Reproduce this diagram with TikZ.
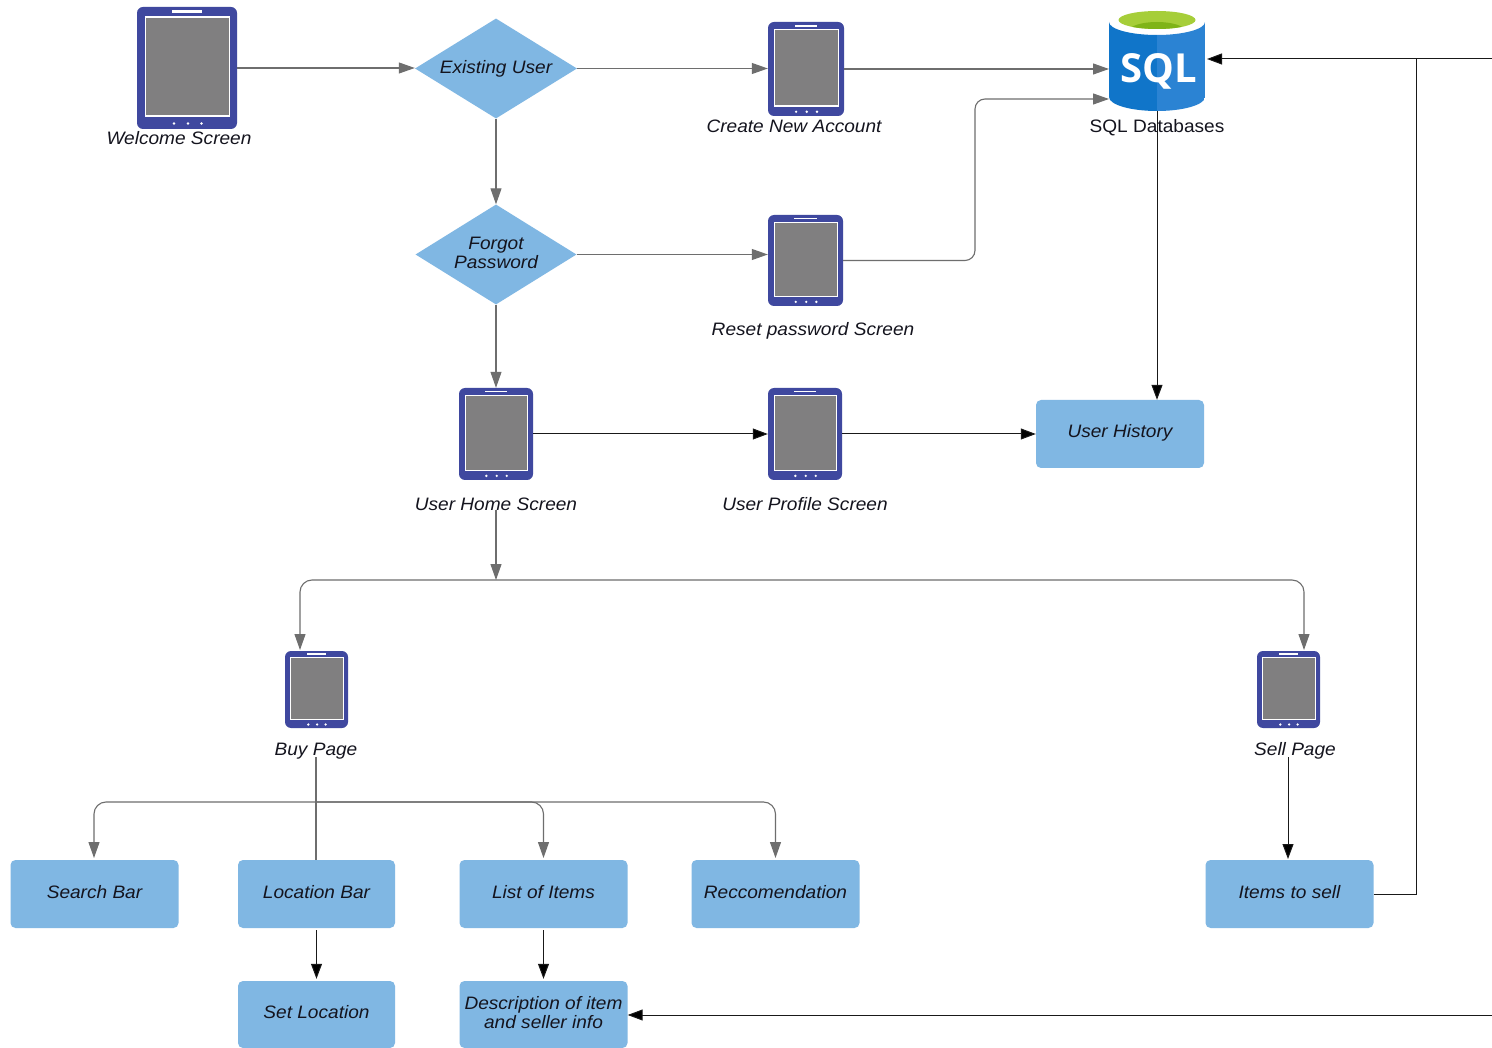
\documentclass[tikz,border=0pt]{standalone}
\usepackage{fontspec}
\setmainfont[FakeStretch=1.06]{Liberation Sans}
\newfontfamily\sqlfont{Open Sans}
\usetikzlibrary{arrows.meta,shapes.geometric,calc}
\definecolor{boxblue}{HTML}{80B7E3}
\definecolor{tabblue}{HTML}{3F489F}
\definecolor{screengrey}{HTML}{807F80}
\definecolor{linegrey}{HTML}{6E6E6E}
\definecolor{txt}{HTML}{14141E}
\definecolor{sqlleft}{HTML}{1075C9}
\definecolor{sqlright}{HTML}{2B83D3}
\definecolor{sqlgreen}{HTML}{A6CE39}
\definecolor{sqldkgreen}{HTML}{7FB418}
\tikzset{
  greyline/.style={draw=linegrey,line width=1.1pt,-{Triangle[length=16pt,width=11pt,fill=linegrey]}},
  greyplain/.style={draw=linegrey,line width=1.1pt},
  blackline/.style={draw=black!90,line width=1pt,-{Triangle[length=15pt,width=11pt,fill=black]}},
  blackplain/.style={draw=black!90,line width=1pt},
  lbl/.style={font=\fontsize{18}{20}\selectfont\itshape,text=txt,inner sep=0pt,anchor=base},
  procbox/.style={fill=boxblue,rounded corners=5pt,inner sep=0pt,font=\fontsize{18}{19}\selectfont\itshape,text=txt,align=center},
  oneline/.style={text height=14pt,text depth=6pt},
  decision/.style={diamond,fill=boxblue,aspect=1.62,inner sep=0pt,font=\fontsize{18}{19}\selectfont\itshape,text=txt,align=center},
}
% name, left, top, right, bottom
\newcommand{\tablet}[5]{%
  \pgfmathsetmacro{\tw}{#4-#2}\pgfmathsetmacro{\th}{#5-#3}%
  \node[fill=tabblue,rounded corners=6pt,inner sep=0pt,minimum width=\tw pt,minimum height=\th pt] (#1) at ({(#2+#4)/2},{(#3+#5)/2}) {};
  \begin{scope}[shift={(#2,#3)},x=\tw pt,y=-\th pt]
    \fill[white] (0.075,0.075) rectangle (0.93,0.9);
    \fill[screengrey] (0.09,0.088) rectangle (0.915,0.887);
    \fill[white] (0.35,0.028) rectangle (0.65,0.048);
    \foreach \dx in {0.37,0.51,0.645}{\fill[white] (\dx,0.955) circle[radius=1.3pt];}
  \end{scope}
}
\begin{document}
\begin{tikzpicture}[x=1pt,y=-1pt]
\useasboundingbox (0,0) rectangle (1492,1048);
\fill[white] (0,0) rectangle (1492,1048);
% tablets
\tablet{welcome}{137}{7}{237}{129}
\tablet{create}{768}{22}{844}{116}
\tablet{reset}{768}{215}{843}{306}
\tablet{home}{459}{388}{533}{480}
\tablet{profile}{768}{388}{842}{480}
\tablet{buy}{285}{651}{348}{728}
\tablet{sell}{1257}{651}{1320}{728}
% decisions
\node[decision,minimum width=162pt,minimum height=100pt] (existing) at (496,68.5) {Existing User};
\node[decision,minimum width=161pt,minimum height=100pt] (forgot) at (496,254.5) {Forgot\\Password\\[-15pt]\mbox{}};
% boxes
\node[procbox,oneline,minimum width=168pt,minimum height=68pt] (history) at (1120,434) {User History};
\node[procbox,oneline,minimum width=168pt,minimum height=68pt] (search) at (94.5,894) {Search Bar};
\node[procbox,oneline,minimum width=157pt,minimum height=68pt] (location) at (316.5,894) {Location Bar};
\node[procbox,oneline,minimum width=168pt,minimum height=68pt] (items) at (543.5,894) {List of Items};
\node[procbox,oneline,minimum width=168pt,minimum height=68pt] (recc) at (775.5,894) {Reccomendation};
\node[procbox,oneline,minimum width=168pt,minimum height=68pt] (tosell) at (1289.5,894) {Items to sell};
\node[procbox,oneline,minimum width=157pt,minimum height=67pt] (setloc) at (316.5,1014.5) {Set Location};
\node[procbox,minimum width=168pt,minimum height=67pt] (desc) at (543.5,1014.5) {Description of item\\and seller info\\[-15pt]\mbox{}};
% SQL cylinder
\fill[white] (1157,22) ellipse[x radius=48,y radius=13];
\begin{scope}
  \clip (1109,22) -- (1109,97) arc[start angle=180,end angle=0,x radius=48,y radius=14] -- (1205,22) arc[start angle=0,end angle=180,x radius=48,y radius=13] -- cycle;
  \fill[sqlleft] (1109,0) rectangle (1157,120);
  \fill[sqlright] (1157,0) rectangle (1205,120);
\end{scope}
\fill[sqlgreen] (1157,20) ellipse[x radius=38.5,y radius=9];
\begin{scope}
  \clip (1157,20) ellipse[x radius=38.5,y radius=9];
  \fill[sqldkgreen] (1157,31) ellipse[x radius=28,y radius=9];
\end{scope}
\node[inner sep=0pt,minimum width=96pt,minimum height=101pt] (sql) at (1157,60.5) {};
\node[inner sep=0pt,text=white,font=\fontsize{40}{42}\sqlfont\bfseries] (sqltext) at (1159,71) {SQL};
% labels
\node[lbl] (lwelcome) at (179,144.5) {Welcome Screen};
\node[lbl] (lcreate) at (794,133) {Create New Account};
\node[lbl] (lreset) at (813,336) {Reset password Screen};
\node[lbl] (lhome) at (496,511) {User Home Screen};
\node[lbl] (lprofile) at (805,511) {User Profile Screen};
\node[lbl] (lbuy) at (316,755) {Buy Page};
\node[lbl] (lsell) at (1295,755) {Sell Page};
% helper coordinates
\coordinate (sqlA) at (1109,69);
\coordinate (sqlB) at (1109,99);
\coordinate (sqlC) at (1207,59);
\coordinate (sqlD) at (1157,111);
\coordinate (homeout) at (496,510);
\coordinate (split) at (496,580);
\coordinate (rightTop) at (1492,59);
\coordinate (rightBot) at (1492,1015);
\coordinate (buyfork) at (316,802);
\coordinate (buyline) at (316,757);
\coordinate (trunk) at (1416,59);
\coordinate (sellstart) at (1288,757);
\coordinate (sellend) at (1288,859);
% connectors
\draw[greyline] (welcome.east) -- (welcome.east -| existing.west);
\draw[greyline] (existing.east) -- (existing.east -| create.west);
\draw[greyline] (create.east) -- (create.east -| sqlA);
\draw[greyline] (existing.south) -- (forgot.north);
\draw[greyline] (forgot.east) -- (forgot.east -| reset.west);
\draw[greyline,rounded corners=10pt] (reset.east) -- (975,260.5) -- (975,99) -- (sqlB);
\draw[greyline] (forgot.south) -- (home.north);
\draw[blackline] (home.east) -- (profile.west);
\draw[blackline] (profile.east) -- (history.west);
\draw[blackline] (sqlD) -- (sqlD |- history.north);
\draw[greyline] (homeout) -- (split);
\draw[greyline,rounded corners=12pt,{Triangle[length=16pt,width=11pt,fill=linegrey]}-{Triangle[length=16pt,width=11pt,fill=linegrey]}] (300,650) -- (300,580) -- (1304,580) -- (1304,650);
\draw[greyplain] (buyline) -- (buyline |- location.north);
\draw[greyline,rounded corners=12pt] (buyfork) -- (94,802) -- (94,858);
\draw[greyline,rounded corners=12pt] (buyfork) -- (543.5,802) -- (543.5,858);
\draw[greyline,rounded corners=12pt] (buyfork) -- (775.5,802) -- (775.5,858);
\draw[blackline,shorten >=2pt] (location.south) ++(0,2) -- (setloc.north);
\draw[blackline,shorten >=2pt] (items.south) ++(0,2) -- (desc.north);
\draw[blackline] (sellstart) -- (sellend);
\draw[blackplain] (tosell.east) -- (tosell.east -| trunk) -- (trunk);
\draw[blackline] (rightTop) -- (sqlC);
\draw[blackline] (rightBot) -- (desc.east |- rightBot);
% SQL label drawn above the vertical line
\node[inner sep=0pt,anchor=base,font=\fontsize{18}{20}\selectfont,text=txt] (lsql) at (1157,133) {SQL Databases};
\end{tikzpicture}
\end{document}
